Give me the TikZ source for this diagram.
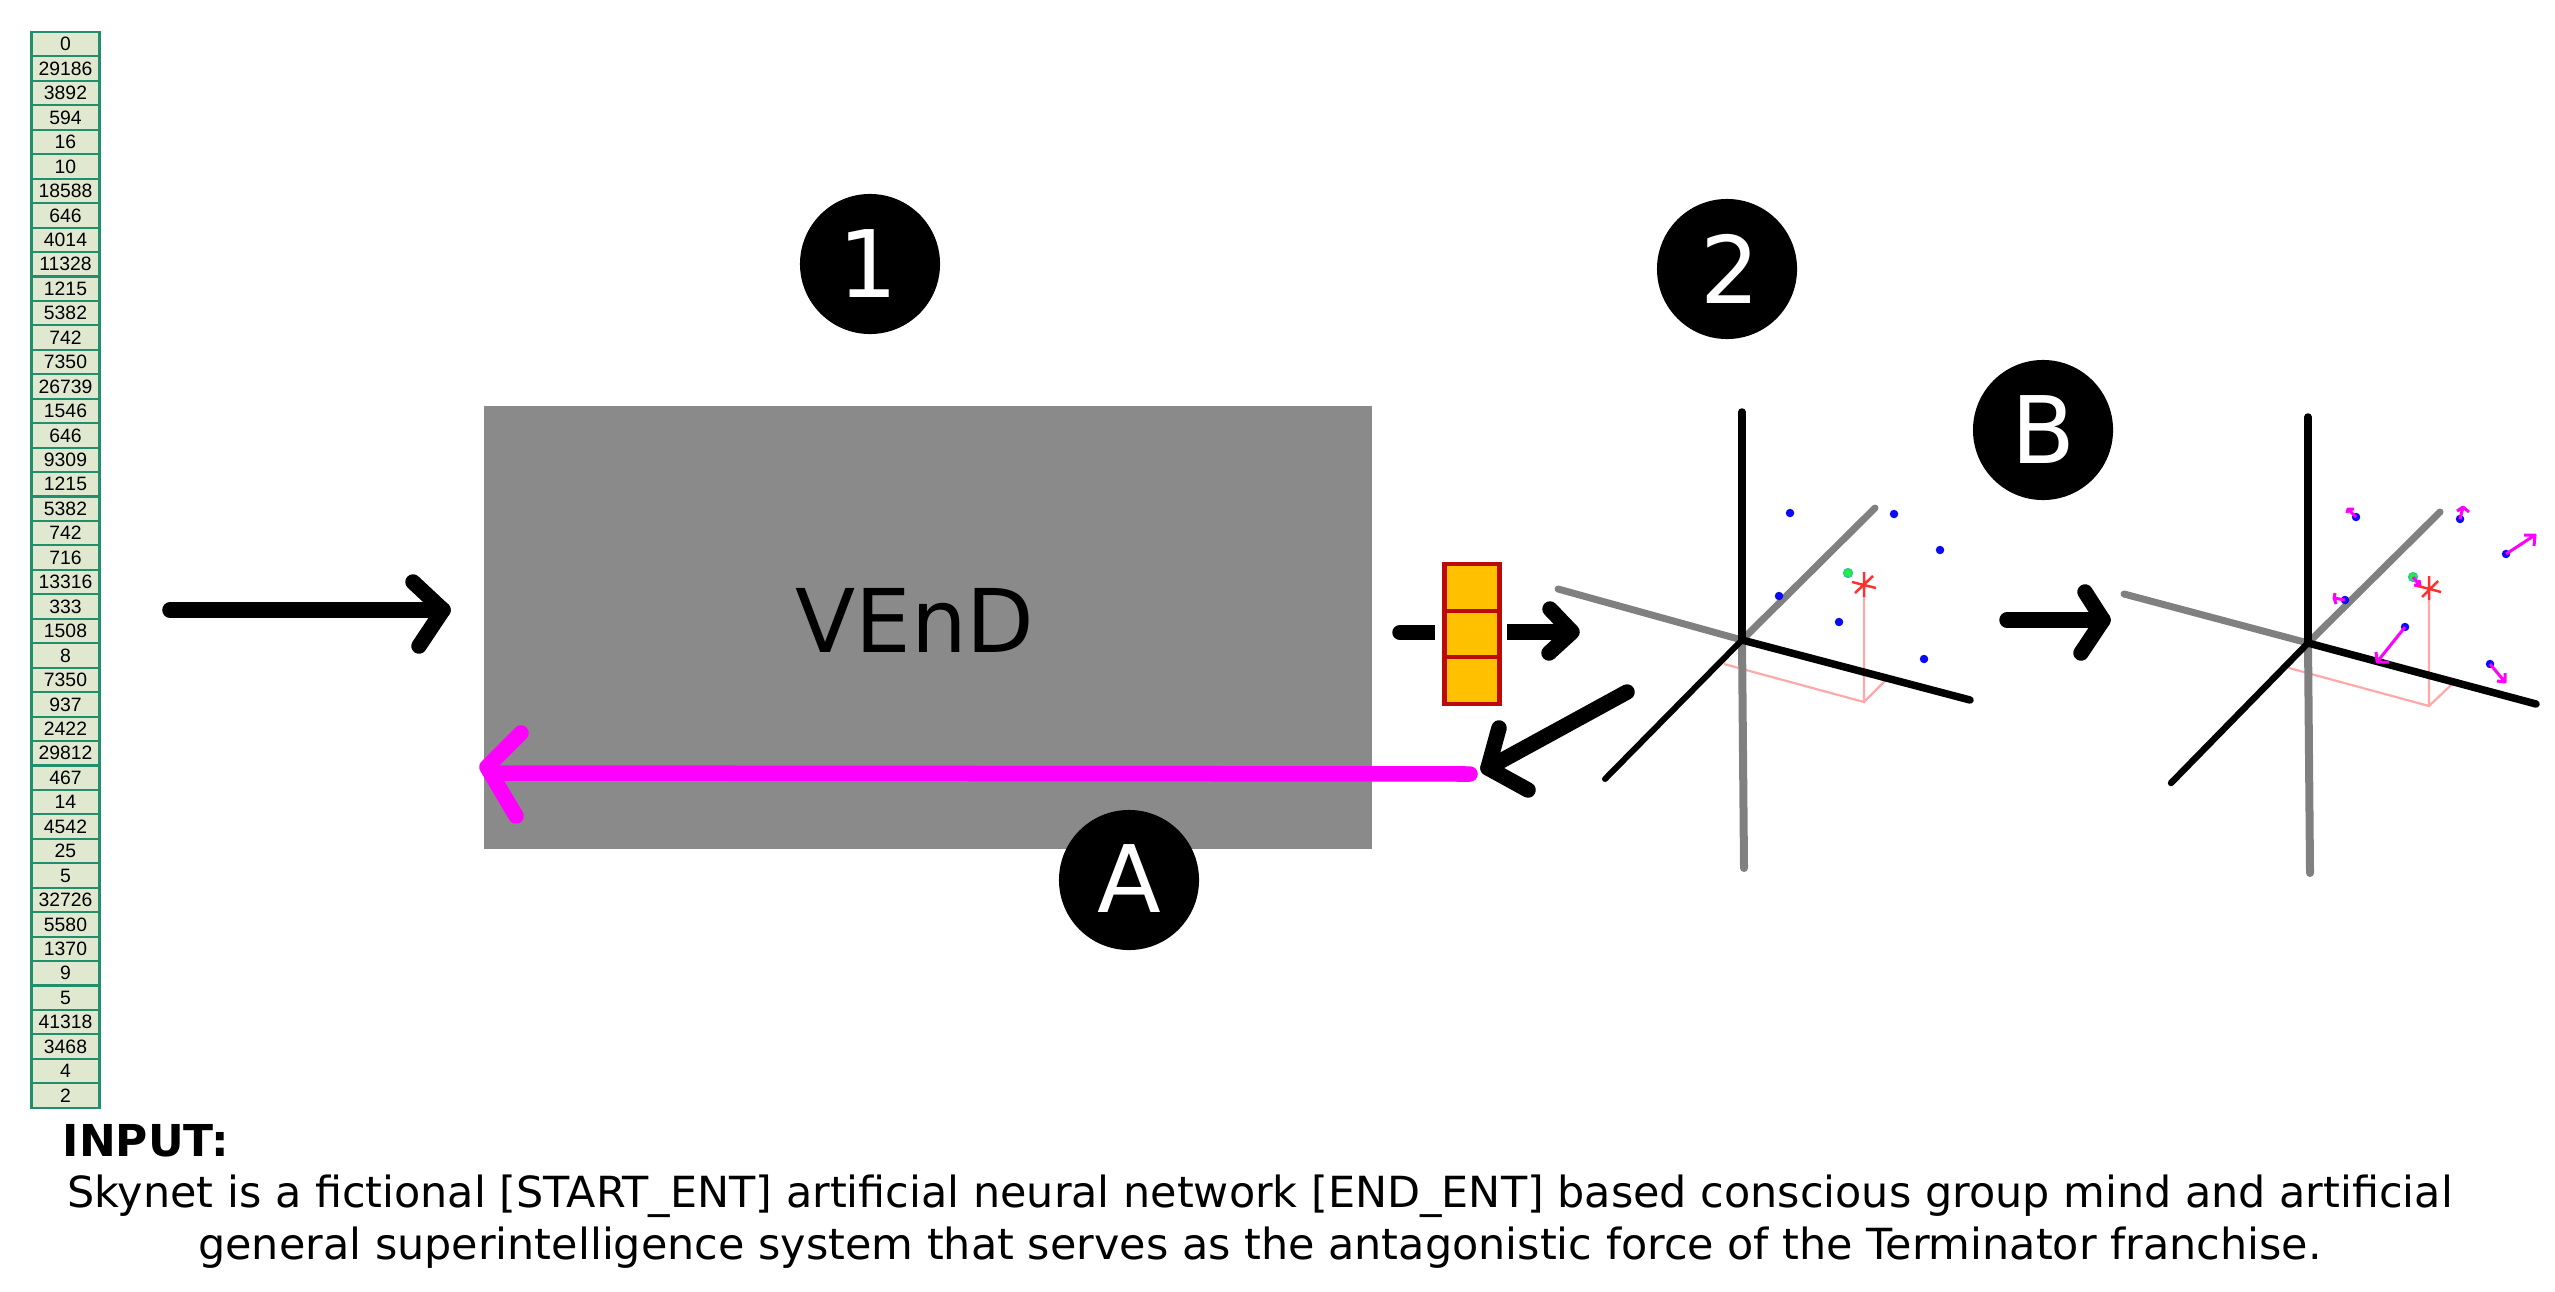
\documentclass[tikz,border=0pt]{standalone}
\usepackage{fontspec}
\setmainfont{DejaVu Sans}
\newfontfamily\cellfont{Liberation Sans}
\usetikzlibrary{arrows.meta}
\definecolor{cellfill}{HTML}{E1E8D0}
\definecolor{cellline}{HTML}{218E6C}
\definecolor{boxgray}{HTML}{8A8A8A}
\definecolor{axisgray}{HTML}{808080}
\definecolor{tokfill}{HTML}{FFC000}
\definecolor{tokline}{HTML}{BC0A0A}
\definecolor{bluedot}{HTML}{0A0AF5}
\definecolor{guide}{HTML}{FFA8A8}
\definecolor{starred}{HTML}{FF3030}
\definecolor{pureMagenta}{HTML}{FF00FF}
\definecolor{dotGreen}{HTML}{20F040}
\definecolor{dotRing}{HTML}{30C0A0}
\tikzset{
  x=0.01cm,y=-0.01cm,
  cellbox/.style={draw=cellline,fill=cellfill,line width=0.6pt,minimum width=0.68cm,minimum height=0.2445cm,inner sep=0pt,font=\cellfont\fontsize{5.5}{5.5}\selectfont},
  badge/.style={circle,fill=black,text=white,minimum size=1.4cm,inner sep=0pt,font=\fontsize{26.5}{26.5}\selectfont},
  tokbox/.style={draw=tokline,fill=tokfill,line width=1.2pt,minimum width=0.55cm,minimum height=0.465cm,inner sep=0pt},
  bigarrow/.style={line width=0.155cm,line cap=round,line join=round},
  thickstub/.style={line width=0.155cm},
  axisblack/.style={line width=0.075cm,line cap=round,black},
  axisgrey/.style={line width=0.08cm,line cap=round,axisgray},
  guideline/.style={line width=0.022cm,guide},
  starline/.style={line width=0.025cm,starred},
  dotblue/.style={circle,fill=bluedot,minimum size=0.085cm,inner sep=0pt},
  dotgreen/.style={circle,fill=dotGreen,draw=dotRing,line width=0.012cm,minimum size=0.09cm,inner sep=0pt},
  moveline/.style={line width=0.03cm,pureMagenta,line join=round},
}
\begin{document}
\begin{tikzpicture}
\useasboundingbox (0,0) rectangle (2555,1291);
% token list
\foreach \v [count=\i from 0] in {0,29186,3892,594,16,10,18588,646,4014,11328,1215,5382,742,7350,26739,1546,646,9309,1215,5382,742,716,13316,333,1508,8,7350,937,2422,29812,467,14,4542,25,5,32726,5580,1370,9,5,41318,3468,4,2}{
  \node[cellbox] (cell\i) at (65.5,{44.2+\i*24.45}) {\raisebox{-0.7pt}{\v}};
}
% main box
\node[fill=boxgray,minimum width=8.88cm,minimum height=4.43cm,inner sep=0pt] (vend) at (928,627.5) {};
\node[font=\fontsize{25}{25}\selectfont] (vendlabel) at (915,620) {VEnD};
% badges
\node[badge] (b1) at (870,264) {\hspace*{-1pt}1};
\node[badge] (b2) at (1727,269) {\hspace*{2pt}2};
\node[badge] (bB) at (2043,430) {B};
\node[badge] (bA) at (1129,880) {\raisebox{1pt}{A}};
% input arrow
\coordinate (inA) at (170,610);
\coordinate (inB) at (443,610);
\draw[bigarrow] (inA) -- (inB);
\draw[bigarrow] (413,582) -- (inB) -- (419,646);
% token vector
\node[tokbox] (t1) at (1472,587.5) {};
\node[tokbox] (t2) at (1472,634) {};
\node[tokbox] (t3) at (1472,680.5) {};
\coordinate (sA) at (1400,632.5);
\coordinate (sB) at (1435,632.5);
\coordinate (sC) at (1507,632);
\coordinate (sD) at (1572,632);
\draw[thickstub,line cap=round] (sA) -- ++(10,0);
\draw[thickstub] (sA) -- (sB);
\draw[thickstub] (sC) -- (sD);
\draw[bigarrow] (1550,609) -- (sD) -- (1549,653);
% return arrows
\coordinate (rA) at (1627,692);
\coordinate (rB) at (1488,768);
\draw[bigarrow] (rA) -- (rB);
\draw[bigarrow] (1499,728) -- (rB) -- (1528,790);
\coordinate (mA) at (1470,774);
\coordinate (mB) at (495,773);
\coordinate (mC) at (487,767);
\draw[bigarrow,pureMagenta] (mA) -- (mB);
\draw[bigarrow,pureMagenta] (521,733) -- (mC) -- (516,816);
\coordinate (nA) at (2007,620);
\coordinate (nB) at (2103,620);
\draw[bigarrow] (nA) -- (nB);
\draw[bigarrow] (2085,592) -- (nB) -- (2081,653);
% ---------- first plot
\coordinate (o1) at (1742,640);
\coordinate (o1u) at (1742,412);
\coordinate (o1d) at (1744,868);
\coordinate (o1l) at (1558,589);
\coordinate (o1ur) at (1875,508);
\coordinate (o1r) at (1970,700);
\coordinate (o1ll) at (1605,779);
\coordinate (p1a) at (1864,597);
\coordinate (p1b) at (1864,702);
\coordinate (p1c) at (1724,664);
\coordinate (p1e) at (1886,680);
\draw[guideline] (p1a) -- (p1b) -- (p1c) (p1b) -- (p1e);
\draw[axisgrey] (o1) -- (o1d);
\draw[axisgrey,line width=0.07cm] (o1) -- (o1l);
\draw[axisgrey,line width=0.07cm] (o1) -- (o1ur);
\draw[axisblack] (o1) -- (o1u);
\draw[axisblack] (o1) -- (o1r);
\draw[axisblack,line width=0.06cm] (o1) -- (o1ll);
\node[dotblue] (d1a) at (1790,513) {};
\node[dotblue] (d1b) at (1894,514) {};
\node[dotblue] (d1c) at (1940,550) {};
\node[dotblue] (d1d) at (1779,596) {};
\node[dotblue] (d1e) at (1839,622) {};
\node[dotblue] (d1f) at (1924,659) {};
\node[dotgreen] (g1) at (1848,573) {};
\coordinate (s1) at (1864,584);
\draw[starline] (1864,572) -- (1864,597) (1852,582) -- (1876,588) (1873,576) -- (1855,593);
% ---------- second plot
\coordinate (o2) at (2308,643);
\coordinate (o2u) at (2308,417);
\coordinate (o2d) at (2310,873);
\coordinate (o2l) at (2124,594);
\coordinate (o2ur) at (2440,512);
\coordinate (o2r) at (2536,704);
\coordinate (o2ll) at (2171,783);
\coordinate (p2a) at (2429,600);
\coordinate (p2b) at (2429,706);
\coordinate (p2c) at (2289,668);
\coordinate (p2e) at (2452,684);
\draw[guideline] (p2a) -- (p2b) -- (p2c) (p2b) -- (p2e);
\draw[axisgrey] (o2) -- (o2d);
\draw[axisgrey,line width=0.07cm] (o2) -- (o2l);
\draw[axisgrey,line width=0.07cm] (o2) -- (o2ur);
\draw[axisblack] (o2) -- (o2u);
\draw[axisblack] (o2) -- (o2r);
\draw[axisblack,line width=0.065cm] (o2) -- (o2ll);
\coordinate (e2a) at (2348,509);
\coordinate (e2b) at (2463,507);
\coordinate (e2c) at (2535,535);
\coordinate (e2d) at (2334,598);
\coordinate (e2e) at (2377,662);
\coordinate (e2f) at (2505,682);
\coordinate (e2g) at (2420,586);
\node[dotblue] (d2a) at (2356,517) {};
\node[dotblue] (d2b) at (2460,519) {};
\node[dotblue] (d2c) at (2506,554) {};
\node[dotblue] (d2d) at (2345,600) {};
\node[dotblue] (d2e) at (2405,627) {};
\node[dotblue] (d2f) at (2490,664) {};
\node[dotgreen] (g2) at (2413,577) {};
\draw[moveline] (d2a.center) -- (e2a) (2347,513) -- (e2a) -- (2354,509);
\draw[moveline] (d2b.center) -- (e2b) (2457,511) -- (e2b) -- (2469,512);
\draw[moveline] (d2c.center) -- (e2c) (2524,535) -- (e2c) -- (2534,546);
\draw[moveline] (d2d.center) -- (e2d) (2335,593) -- (e2d) -- (2336,604);
\draw[moveline] (d2e.center) -- (e2e) (2376,652) -- (e2e) -- (2389,662);
\draw[moveline] (d2f.center) -- (e2f) (2497,681) -- (e2f) -- (2505,673);
\draw[moveline] (g2.center) -- (e2g) (2414,585) -- (e2g) -- (2419,580);
\draw[starline] (2429,576) -- (2429,600) (2418,586) -- (2441,592) (2438,581) -- (2422,597);
% ---------- text
\node[anchor=west,font=\bfseries\fontsize{12.5}{12.5}\selectfont,inner sep=0pt] (inputlabel) at (62,1141) {INPUT:};
\node[align=center,font=\fontsize{12.2}{14.8}\selectfont,inner sep=0pt] (inputtext) at (1260,1222) {Skynet is a fictional [START\_ENT] artificial neural network [END\_ENT] based conscious group mind and artificial\\general superintelligence system that serves as the antagonistic force of the Terminator franchise.};
\end{tikzpicture}
\end{document}
